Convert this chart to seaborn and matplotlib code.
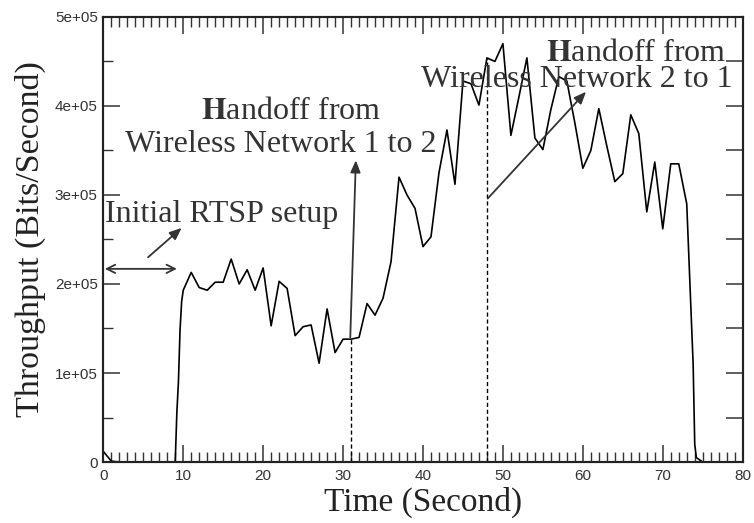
import numpy as np
import matplotlib
matplotlib.use("Agg")
import matplotlib.pyplot as plt
from matplotlib.ticker import MultipleLocator, FixedLocator, FixedFormatter
import seaborn as sns

# throughput trace (seconds, bits/second)
time_s = [0, 1, 2, 3, 4, 5, 6, 7, 8, 9, 9.2, 9.4, 9.6, 9.8,
          10, 11, 12, 13, 14, 15, 16, 17, 18, 19,
          20, 21, 22, 23, 24, 25, 26, 27, 28, 29,
          30, 31, 32, 33, 34, 35, 36, 37, 38, 39,
          40, 41, 42, 43, 44, 45, 46, 47, 48, 49,
          50, 51, 52, 53, 54, 55, 56, 57, 58, 59,
          60, 61, 62, 63, 64, 65, 66, 67, 68, 69,
          70, 71, 72, 73, 73.2, 73.4, 73.6, 73.8, 74, 74.2, 75]
throughput = [12000, 1000, 0, 0, 0, 0, 0, 0, 0, 0, 55000, 90000, 148000, 180000,
              193000, 213000, 196000, 193000, 202000, 202000, 228000, 200000, 216000, 193000,
              218000, 153000, 203000, 195000, 142000, 152000, 154000, 111000, 172000, 123000,
              138000, 138000, 140000, 178000, 165000, 184000, 225000, 320000, 300000, 285000,
              242000, 253000, 325000, 373000, 312000, 428000, 425000, 401000, 454000, 450000,
              470000, 367000, 410000, 454000, 364000, 351000, 396000, 433000, 428000, 381000,
              330000, 350000, 397000, 355000, 315000, 324000, 390000, 369000, 281000, 337000,
              262000, 335000, 335000, 290000, 245000, 200000, 155000, 110000, 20000, 5000, 0]

# handoff instants (dashed markers) and the throughput level they reach
handoff_t = [31, 48]
handoff_top = [138000, 454000]

y_ticks = [0, 100000, 200000, 300000, 400000, 500000]
y_tick_labels = ["0", "1e+05", "2e+05", "3e+05", "4e+05", "5e+05"]
x_ticks = [0, 10, 20, 30, 40, 50, 60, 70, 80]

sns.set_theme(style="ticks")
plt.rcParams["font.family"] = ["Liberation Sans", "DejaVu Sans"]
plt.rcParams["mathtext.fontset"] = "stix"

fig = plt.figure(figsize=(7.54, 5.23), dpi=100)
ax = fig.add_axes([0.137, 0.1166, 0.848, 0.851])

sns.lineplot(x=time_s, y=throughput, ax=ax, color="black", linewidth=1.2)

for t, top in zip(handoff_t, handoff_top):
    ax.plot([t, t], [0, top], color="black", lw=1.0, ls=(0, (3, 2)))

ax.set_xlim(0, 80)
ax.set_ylim(0, 500000)

ax.xaxis.set_major_locator(FixedLocator(x_ticks))
ax.xaxis.set_minor_locator(MultipleLocator(1))
ax.yaxis.set_major_locator(FixedLocator(y_ticks))
ax.yaxis.set_major_formatter(FixedFormatter(y_tick_labels))
ax.yaxis.set_minor_locator(MultipleLocator(50000))

ax.tick_params(axis="x", which="both", direction="in", top=True, bottom=True,
               colors="#333333", labelsize=11, pad=5)
ax.tick_params(axis="y", which="both", direction="in", left=True, right=False,
               colors="#333333", labelsize=11, pad=4)
ax.tick_params(which="major", length=12, width=1.1)
ax.tick_params(which="minor", length=7, width=1.0)

# right side: ticks every 0.5e5, all the same length
ax2 = ax.twinx()
ax2.set_ylim(0, 500000)
ax2.yaxis.set_major_locator(MultipleLocator(50000))
ax2.tick_params(axis="y", direction="in", length=12, width=1.1, labelright=False,
                colors="#333333")
ax2.grid(False)

for a in (ax, ax2):
    for sp in a.spines.values():
        sp.set_linewidth(1.5)
        sp.set_color("#222222")

serif = ["Liberation Serif", "DejaVu Serif"]
ax.set_xlabel("Time (Second)", fontsize=24, family=serif, color="#222222")
ax.set_ylabel("Throughput (Bits/Second)", fontsize=24.5, family=serif, color="#222222")
ax.xaxis.set_label_coords(0.5, -0.056)
ax.yaxis.set_label_coords(-0.09, 0.5)

txt = dict(fontsize=23, family=serif, color="#333333", va="baseline")
ax.text(0.2, 270000, "Initial RTSP setup", ha="left", **txt)
ax.text(23.5, 385000, r"$\mathbf{H}$andoff from", ha="center", **txt)
ax.text(22.2, 348000, "Wireless Network 1 to 2", ha="center", **txt)
ax.text(66.6, 451000, r"$\mathbf{H}$andoff from", ha="center", **txt)
ax.text(59.3, 421000, "Wireless Network 2 to 1", ha="center", **txt)

arrow_kw = dict(color="#333333", lw=1.3, shrinkA=0, shrinkB=0)
ax.annotate("", xy=(0.2, 217000), xytext=(9.2, 217000),
            arrowprops=dict(arrowstyle="<->,head_length=0.5,head_width=0.25", **arrow_kw))
ax.annotate("", xy=(9.8, 263000), xytext=(5.6, 230000),
            arrowprops=dict(arrowstyle="-|>,head_length=0.6,head_width=0.25", **arrow_kw))
ax.annotate("", xy=(31.6, 339000), xytext=(30.9, 140000),
            arrowprops=dict(arrowstyle="-|>,head_length=0.6,head_width=0.25", **arrow_kw))
ax.annotate("", xy=(60.4, 416000), xytext=(48.1, 296000),
            arrowprops=dict(arrowstyle="-|>,head_length=0.6,head_width=0.25", **arrow_kw))

fig.savefig("out.png", dpi=100)
